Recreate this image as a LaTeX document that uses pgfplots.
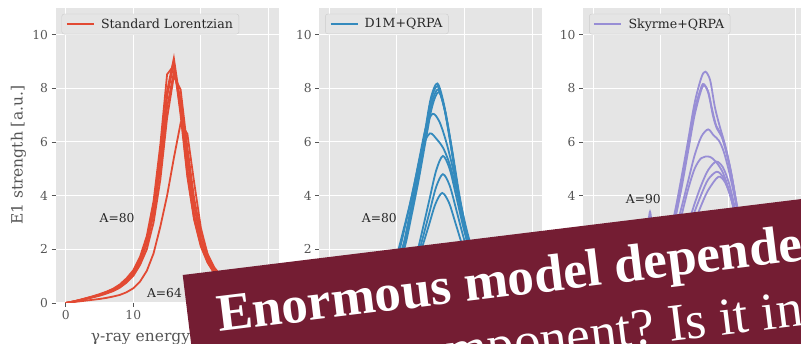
\documentclass[border=0pt]{standalone}
\usepackage{fontspec}
\setmainfont{DejaVu Serif}
\newfontfamily\bannerfont{Liberation Serif}
\usepackage{pgfplots}
\usepackage{pgfplotstable}
\pgfplotsset{compat=1.18}

\definecolor{panelbg}{HTML}{E5E5E5}
\definecolor{tickgray}{HTML}{555555}
\definecolor{legedge}{HTML}{CCCCCC}
\definecolor{slred}{HTML}{E24A33}
\definecolor{dmblue}{HTML}{348ABD}
\definecolor{skpurple}{HTML}{988ED5}
\definecolor{bannerred}{HTML}{741D33}

% Standard Lorentzian E1 strength, sampled every MeV
\pgfplotstableread{
x  b1   b2   b3   b4   b5   l
0  0.00 0.00 0.00 0.00 0.00 0.00
1  0.05 0.05 0.04 0.04 0.05 0.03
2  0.11 0.11 0.10 0.09 0.10 0.06
3  0.17 0.18 0.16 0.15 0.17 0.09
4  0.24 0.25 0.22 0.21 0.23 0.12
5  0.31 0.33 0.29 0.27 0.30 0.15
6  0.40 0.42 0.37 0.35 0.39 0.19
7  0.51 0.53 0.47 0.44 0.49 0.24
8  0.66 0.69 0.61 0.57 0.64 0.30
9  0.88 0.92 0.81 0.76 0.85 0.40
10 1.18 1.22 1.08 1.01 1.13 0.55
11 1.65 1.72 1.52 1.42 1.58 0.80
12 2.40 2.50 2.20 2.00 2.30 1.20
13 3.60 3.80 3.30 3.00 3.45 1.85
14 5.50 5.90 5.00 4.60 5.30 2.85
15 7.90 8.52 7.30 6.90 7.70 4.00
16 9.12 8.85 8.60 8.45 8.95 5.40
17 7.40 7.20 7.60 7.95 7.00 6.70
18 5.00 4.80 5.40 5.80 4.70 6.30
19 3.30 3.15 3.60 3.90 3.10 4.50
20 2.25 2.15 2.40 2.60 2.10 2.80
21 1.60 1.52 1.70 1.82 1.50 1.80
22 1.18 1.12 1.25 1.32 1.10 1.25
23 0.90 0.86 0.95 1.00 0.85 0.92
24 0.70 0.67 0.74 0.78 0.66 0.70
25 0.56 0.54 0.59 0.62 0.53 0.55
26 0.46 0.44 0.48 0.50 0.43 0.45
27 0.38 0.36 0.40 0.41 0.36 0.37
28 0.32 0.30 0.33 0.34 0.30 0.31
29 0.27 0.26 0.28 0.29 0.25 0.26
30 0.23 0.22 0.24 0.25 0.21 0.22
}\lorentz

\tikzset{
  note/.style={anchor=base west, inner sep=0pt, font=\fontsize{12.3}{14}\selectfont, text=black!85},
}

\pgfplotsset{
  panel/.style={
    scale only axis, width=223pt, height=295.2pt, anchor=south west,
    xmin=-1.5, xmax=31.5, ymin=0, ymax=11,
    xtick={0,10,20,30}, ytick={0,2,4,6,8,10},
    axis background/.style={fill=panelbg},
    axis line style={draw=none},
    grid=major, major grid style={white, line width=1pt},
    tick align=outside, major tick length=4pt,
    tick style={tickgray, line width=0.8pt},
    tick pos=left,
    ticklabel style={font=\fontsize{12.3}{14}\selectfont, text=tickgray},
    /pgf/number format/assume math mode=true,
    legend style={at={(rel axis cs:0,1)}, anchor=north west, xshift=6pt, yshift=-6pt,
      fill=panelbg, draw=legedge, rounded corners=2.5pt,
      font=\fontsize{12.6}{14}\selectfont, text=black!85, inner xsep=4pt, inner ysep=2.5pt,
      /tikz/every odd column/.append style={column sep=4pt}},
    legend image code/.code={\draw[line width=2.2pt, #1] (0pt,0pt) -- (27pt,0pt);},
    legend cell align=left,
  },
  curve/.style={forget plot, line width=1.8pt, mark=none},
}

\begin{document}
\begin{tikzpicture}
\path[use as bounding box] (0,0) rectangle (801pt,344pt);
\begin{scope}
\clip (0,0) rectangle (801pt,344pt);

% ---- Standard Lorentzian ----
\begin{axis}[panel, at={(55.6pt,41pt)},
  xticklabels={0,10,,},
  xlabel={γ-ray energy [MeV]},
  xlabel style={font=\fontsize{15.5}{18}\selectfont, text=tickgray,
    at={(axis description cs:0.5,-0.1288)}, anchor=base},
  ylabel={E1 strength [a.u.]},
  ylabel style={font=\fontsize{15.5}{18}\selectfont, text=tickgray,
    at={(axis description cs:-0.166,0.5)}, anchor=center}]
\addlegendimage{draw=slred}
\addlegendentry{Standard Lorentzian}
\addplot[curve, slred] table[x=x, y=b1] {\lorentz};
\addplot[curve, slred] table[x=x, y=b2] {\lorentz};
\addplot[curve, slred] table[x=x, y=b3] {\lorentz};
\addplot[curve, slred] table[x=x, y=b4] {\lorentz};
\addplot[curve, slred] table[x=x, y=b5] {\lorentz};
\addplot[curve, slred] table[x=x, y=l] {\lorentz};
\node[note] at (axis cs:5,3) {A=80};
\node[note] at (axis cs:12,0.2) {A=64};
\end{axis}

% ---- D1M+QRPA ----
\begin{axis}[panel, at={(319.2pt,41pt)},
  xticklabels={,,,}, yticklabels={,2,4,6,8,10}]
\addlegendimage{draw=dmblue}
\addlegendentry{D1M+QRPA}
\addplot[curve, dmblue, smooth] coordinates {(0,0.08) (2,0.16) (4,0.29) (6,0.49) (8,0.82) (9,1.15) (10,1.55) (11,2.21) (12,3.44) (13,4.74) (14,6.14) (15,7.61) (16,8.18) (17,7.36) (18,5.89) (19,4.25) (20,2.86) (21,1.88) (22,1.23) (23,0.82) (24,0.57) (26,0.33) (28,0.2) (30,0.12)};
\addplot[curve, dmblue, smooth] coordinates {(0,0.08) (2,0.16) (4,0.29) (6,0.48) (8,0.81) (9,1.13) (10,1.54) (11,2.18) (12,3.39) (13,4.69) (14,6.06) (15,7.51) (16,8.08) (17,7.27) (18,5.82) (19,4.2) (20,2.83) (21,1.86) (22,1.21) (23,0.81) (24,0.56) (26,0.32) (28,0.2) (30,0.12)};
\addplot[curve, dmblue, smooth] coordinates {(0.1,0.08) (2.1,0.16) (4.1,0.28) (6.1,0.48) (8.1,0.8) (9.1,1.11) (10.1,1.51) (11.1,2.15) (12.1,3.34) (13.1,4.62) (14.1,6.05) (15.1,7.4) (16.1,7.96) (17.1,7.16) (18.1,5.73) (19.1,4.14) (20.1,2.79) (21.1,1.83) (22.1,1.19) (23.1,0.8) (24.1,0.56) (26.1,0.32) (28.1,0.2) (30,0.12)};
\addplot[curve, dmblue, smooth] coordinates {(0.2,0.08) (2.2,0.16) (4.2,0.28) (6.2,0.47) (8.2,0.79) (9.2,1.1) (10.2,1.49) (11.2,2.12) (12.2,3.3) (13.2,4.56) (14.2,5.97) (15.2,7.31) (16.2,7.86) (17.2,7.07) (18.2,5.66) (19.2,4.09) (20.2,2.75) (21.2,1.81) (22.2,1.18) (23.2,0.79) (24.2,0.55) (26.2,0.31) (28.2,0.2) (30,0.12)};
\addplot[curve, dmblue, smooth] coordinates {(0,0.07) (2,0.15) (4,0.26) (6,0.44) (7.3,0.7) (8.3,0.99) (9.3,1.34) (10.3,1.9) (11.3,2.96) (12.3,4.09) (13.3,5.36) (14.3,6.56) (15.3,7.05) (16.3,6.75) (17.3,6.0) (18.3,5.0) (19.3,3.85) (20.3,2.75) (21.3,1.85) (22.3,1.2) (23.3,0.8) (25,0.45) (27,0.27) (30,0.14)};
\addplot[curve, dmblue, smooth] coordinates {(0,0.08) (2.9,0.22) (4.9,0.38) (6.9,0.63) (7.9,0.88) (8.9,1.2) (9.9,1.71) (10.9,2.65) (11.9,3.67) (12.9,4.8) (13.9,5.88) (14.9,6.32) (15.9,6.1) (16.9,5.75) (17.9,5.1) (18.9,4.1) (19.9,2.95) (20.9,1.95) (21.9,1.28) (22.9,0.85) (24,0.55) (26,0.33) (28,0.2) (30,0.13)};
\addplot[curve, dmblue, smooth] coordinates {(0,0.05) (4.8,0.15) (6.8,0.25) (8.8,0.38) (10.8,0.77) (11.8,1.1) (12.8,1.7) (13.8,2.74) (14.8,3.84) (15.8,4.93) (16.8,5.48) (17.8,5.0) (18.8,3.95) (19.8,2.85) (20.8,1.9) (21.8,1.25) (22.8,0.82) (24,0.55) (26,0.33) (28,0.2) (30,0.13)};
\addplot[curve, dmblue, smooth] coordinates {(0,0.04) (4.8,0.13) (6.8,0.22) (8.8,0.33) (10.8,0.67) (11.8,0.96) (12.8,1.49) (13.8,2.4) (14.8,3.36) (15.8,4.32) (16.8,4.8) (17.8,4.38) (18.8,3.46) (19.8,2.5) (20.8,1.66) (21.8,1.1) (22.8,0.72) (24,0.48) (26,0.29) (28,0.18) (30,0.11)};
\addplot[curve, dmblue, smooth] coordinates {(0,0.04) (4.7,0.11) (6.7,0.19) (8.7,0.28) (10.7,0.58) (11.7,0.82) (12.7,1.27) (13.7,2.05) (14.7,2.87) (15.7,3.69) (16.7,4.1) (17.7,3.74) (18.7,2.95) (19.7,2.13) (20.7,1.42) (21.7,0.94) (22.7,0.61) (24,0.41) (26,0.25) (28,0.15) (30,0.1)};
\node[note] at (axis cs:4.8,3) {A=80};
\end{axis}

% ---- Skyrme+QRPA ----
\begin{axis}[panel, at={(583.1pt,41pt)},
  xticklabels={,,,}, yticklabels={,,4,6,8,10}]
\addlegendimage{draw=skpurple}
\addlegendentry{Skyrme+QRPA}
\addplot[curve, skpurple, smooth] coordinates {(0,0.1) (2,0.2) (4,0.35) (6,0.55) (8,0.9) (10,1.7) (11,2.4) (12,3.3) (13,4.6) (14,6.0) (15,7.45) (16,8.4) (16.6,8.62) (17.3,8.3) (18,7.3) (18.7,6.6) (19.5,5.9) (20.3,5.0) (21.1,3.85) (22,2.6) (23,1.6) (24,1.0) (26,0.5) (28,0.28) (30,0.17)};
\addplot[curve, skpurple, smooth] coordinates {(0,0.1) (2,0.2) (4,0.34) (6,0.52) (8,0.85) (10,1.6) (11,2.3) (12,3.2) (13,4.4) (14,5.8) (15,7.2) (16,8.05) (16.4,8.15) (17,7.85) (17.6,7.2) (18.2,6.6) (18.9,6.3) (19.6,5.75) (20.4,4.85) (21.2,3.7) (22,2.5) (23,1.55) (24,0.95) (26,0.48) (28,0.27) (30,0.16)};
\addplot[curve, skpurple, smooth] coordinates {(0,0.1) (2,0.19) (4,0.33) (6,0.5) (8,0.82) (10,1.5) (11,2.15) (12,3.0) (13,4.2) (14,5.6) (15,7.0) (16,7.95) (16.5,8.1) (17.1,7.8) (17.7,7.0) (18.3,6.5) (19,6.2) (19.7,5.6) (20.5,4.7) (21.3,3.55) (22.1,2.4) (23,1.5) (24,0.95) (26,0.48) (28,0.27) (30,0.16)};
\addplot[curve, skpurple, smooth] coordinates {(0,0.08) (4,0.28) (8,0.7) (10,1.3) (11,1.85) (12,2.6) (13,3.5) (14,4.5) (15,5.5) (16,6.2) (17,6.47) (17.8,6.25) (18.6,6.05) (19.3,5.65) (20,5.0) (20.8,4.1) (21.6,3.1) (22.4,2.15) (23.3,1.4) (24.5,0.85) (26,0.5) (28,0.28) (30,0.17)};
\addplot[curve, skpurple, smooth] coordinates {(0,0.07) (4,0.24) (8,0.6) (10,1.1) (11,1.6) (12,2.3) (13,3.2) (14,4.2) (15,5.0) (16,5.4) (17.2,5.45) (18.2,5.25) (19.2,4.85) (20.1,4.2) (21,3.3) (21.8,2.4) (22.7,1.6) (23.7,1.0) (25,0.6) (27,0.33) (30,0.17)};
\addplot[curve, skpurple, smooth] coordinates {(0,0.06) (4,0.2) (8,0.45) (10,0.8) (12,1.5) (13,2.1) (14,2.9) (15,3.7) (16,4.4) (17,4.95) (18.2,5.27) (19.2,5.05) (20.1,4.45) (21,3.5) (21.8,2.5) (22.7,1.65) (23.7,1.0) (25,0.6) (27,0.33) (30,0.17)};
\addplot[curve, skpurple, smooth] coordinates {(0,0.06) (4,0.19) (8,0.42) (10,0.75) (12,1.4) (13,1.95) (14,2.65) (15,3.4) (16,4.05) (17,4.6) (18.25,4.89) (19.2,4.7) (20.1,4.15) (21,3.3) (21.8,2.4) (22.7,1.6) (23.7,1.0) (25,0.6) (27,0.33) (30,0.17)};
\addplot[curve, skpurple, smooth] coordinates {(0,0.05) (3,0.15) (5,0.3) (6.5,0.55) (7.4,1.1) (7.9,2.2) (8.4,3.4) (8.9,2.2) (9.4,1.2) (10.2,0.9) (11,1.0) (12,1.25) (13,1.7) (14,2.3) (15,3.0) (16,3.65) (17,4.2) (18.5,4.7) (19.5,4.5) (20.4,3.9) (21.2,3.1) (22,2.25) (22.8,1.5) (23.8,0.95) (25,0.58) (27,0.32) (30,0.16)};
\node[note] at (axis cs:4.8,3.7) {A=90};
\end{axis}

% ---- slanted banner across the bottom ----
\begin{scope}[shift={(182.7pt,69pt)}, rotate=7]
  \fill[bannerred] (0pt,0pt) rectangle (760pt,-220pt);
  \node[anchor=base west, inner sep=0pt, transform shape, text=white,
        font=\bannerfont\bfseries\fontsize{53}{60}\selectfont]
        at (29pt,-61pt) {Enormous model depende};
  \node[anchor=base east, inner sep=0pt, transform shape, text=white,
        font=\bannerfont\fontsize{53}{60}\selectfont]
        at (462pt,-125.5pt) {component?};
  \node[anchor=base west, inner sep=0pt, transform shape, text=white,
        font=\bannerfont\fontsize{53}{60}\selectfont]
        at (475.5pt,-125.5pt) {Is it in};
\end{scope}
\end{scope}
\end{tikzpicture}
\end{document}
